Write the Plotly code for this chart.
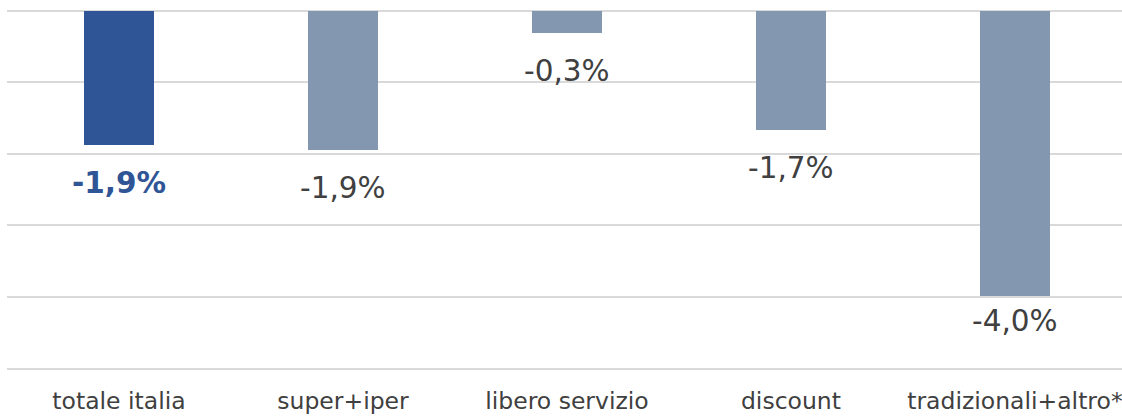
import plotly.graph_objects as go

categories = ["totale italia", "super+iper", "libero servizio", "discount", "tradizionali+altro*"]
values = [-1.87, -1.95, -0.31, -1.66, -3.99]
labels = ["-1,9%", "-1,9%", "-0,3%", "-1,7%", "-4,0%"]

bar_colors = ["#2F5597", "#8497B0", "#8497B0", "#8497B0", "#8497B0"]
label_colors = ["#2F5597", "#404040", "#404040", "#404040", "#404040"]
FONT = "DejaVu Sans"

fig = go.Figure()
fig.add_trace(go.Bar(
    x=list(range(len(categories))),
    y=values,
    width=0.315,
    marker=dict(color=bar_colors, line=dict(width=0)),
    hoverinfo="skip",
))

for i, (v, t) in enumerate(zip(values, labels)):
    fig.add_annotation(
        x=i, y=v, text=(f"<b>{t}</b>" if i == 0 else t),
        showarrow=False, yanchor="middle", yshift=-38 if i < 4 else -25,
        font=dict(family=FONT, size=29.5, color=label_colors[i]),
    )

fig.update_layout(
    width=1122, height=416,
    margin=dict(l=7, r=0, t=11, b=48, autoexpand=False),
    paper_bgcolor="white", plot_bgcolor="white",
    showlegend=False,
    bargap=0,
    font=dict(family=FONT, color="#404040"),
)
fig.update_xaxes(
    range=[-0.5, 4.478], automargin=False,
    tickmode="array", tickvals=list(range(len(categories))), ticktext=categories,
    tickfont=dict(family=FONT, size=23.5, color="#404040"),
    showgrid=False, zeroline=False, ticks="",
    showline=True, linecolor="#D9D9D9", linewidth=1.5,
    ticklabelstandoff=11, ticklabeloverflow="allow",
)
fig.update_yaxes(
    range=[-5, 0], automargin=False,
    dtick=1, showticklabels=False,
    showgrid=True, gridcolor="#D9D9D9", gridwidth=1.5,
    zeroline=True, zerolinecolor="#D9D9D9", zerolinewidth=1.5,
    showline=False, ticks="",
)

fig.write_html(
    "out.html",
    config={"displayModeBar": False},
    post_script="document.body.style.margin='0';document.body.style.overflow='hidden';",
)
